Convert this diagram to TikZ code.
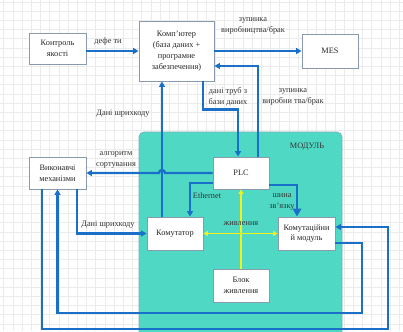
\documentclass[tikz,border=0pt]{standalone}
\usepackage{fontspec}
\setmainfont{Liberation Serif}
\usetikzlibrary{arrows.meta}
\definecolor{lnblue}{HTML}{1A70C8}
\definecolor{modteal}{HTML}{4FD9C5}
\definecolor{boxedge}{HTML}{8A9AAE}
\definecolor{pwr}{HTML}{F2F21A}
\tikzset{
  box/.style={draw=boxedge, line width=0.9pt, fill=white, align=center, inner sep=1pt,
    font=\fontsize{8.3}{10.8}\selectfont, text=black!85},
  lbl/.style={align=center, inner sep=0pt, font=\fontsize{8.3}{10.5}\selectfont, text=black!80},
  arr/.style={draw=lnblue, line width=2.4pt, -{Triangle[length=5.5pt,width=6pt]}},
  bigarr/.style={draw=lnblue, line width=2.4pt, -{Triangle[length=8pt,width=8.5pt]}},
  parr/.style={draw=pwr, line width=1.4pt, -{Triangle[length=4.5pt,width=5pt]}},
  pdarr/.style={draw=pwr, line width=1.4pt, {Triangle[length=4.5pt,width=5pt]}-{Triangle[length=4.5pt,width=5pt]}},
}
\begin{document}
\begin{tikzpicture}[x=1pt,y=-1pt]
\useasboundingbox (0,0) rectangle (403,331);
% grid background
\fill[white] (0,0) rectangle (403,331);
\foreach \i in {0,...,43} {\draw[black!8, line width=0.5pt] (3.6+9.2*\i,0) -- (3.6+9.2*\i,331);}
\foreach \j in {0,...,36} {\draw[black!8, line width=0.5pt] (0,1.8+9.2*\j) -- (403,1.8+9.2*\j);}
% module area
\fill[modteal, draw=boxedge!70!modteal, line width=0.6pt, rounded corners=5pt] (139,132) rectangle (342,345);
\node[lbl] (modlbl) at (307,147) {МОДУЛЬ};
% boxes
\node[box, minimum width=57pt, minimum height=31pt] (kontrol) at (57.5,48.5) {Контроль\\якості};
\node[box, minimum width=75pt, minimum height=60pt] (komp) at (176.5,51) {Комп'ютер\\(база даних +\\програмне\\забезпечення)};
\node[box, minimum width=56pt, minimum height=34pt] (mes) at (330,51) {MES};
\node[box, minimum width=57pt, minimum height=32pt] (vykon) at (57.5,173) {Виконавчі\\механізми};
\node[box, minimum width=56pt, minimum height=32pt] (plc) at (241,173) {PLC};
\node[box, minimum width=56pt, minimum height=33pt] (komut) at (175,233.5) {Комутатор};
\node[box, minimum width=57pt, minimum height=33pt] (kommod) at (306.5,233.5) {Комутаційни\\й модуль};
\node[box, minimum width=56pt, minimum height=33pt] (blok) at (241,285.5) {Блок\\живлення};
% connectors
\draw[arr] (kontrol.east |- komp) -- (komp.west);
\draw[arr] (komp.east) -- (mes.west);
\draw[arr] ([xshift=17pt]plc.north) |- ([yshift=-15pt]komp.east);
\draw[arr] ([xshift=26.5pt]komp.south) -- ++(0,28) -| ([xshift=-3pt]plc.north);
\draw[arr] (plc.west) -- (165,173) arc[start angle=0,end angle=180,radius=3pt] -- (vykon.east);
\draw[arr] ([xshift=-13pt]komut.north) -- ([xshift=-13pt]komut.north |- komp.south);
\draw[arr] ([yshift=-10pt]plc.west) -| ([xshift=15pt]komut.north);
\draw[bigarr] ([yshift=-12pt]plc.east) -| ([xshift=-9.5pt]kommod.north);
\draw[arr] ([xshift=19.5pt]vykon.south) |- (komut.west);
\coordinate (outerA) at (388,329);
\coordinate (innerA) at (362,313);
\draw[arr] ([xshift=-15.5pt]vykon.south) |- (outerA) |- ([yshift=6.5pt]kommod.east);
\draw[arr] ([yshift=-9.5pt]kommod.east) -| (innerA) -| (vykon.south);
\draw[parr] (blok.north) -- (plc.south);
\draw[pdarr] (komut.east) -- (kommod.west);
% labels
\node[lbl] (l1) at (108,42) {дефе ти};
\node[lbl] (l2) at (253,26) {зупинка\\виробництва/брак};
\node[lbl] (l3) at (228,97) {дані труб з\\бази даних};
\node[lbl] (l4) at (293,97) {зупинка\\виробни тва/брак};
\node[lbl] (l5) at (123,114) {Дані шрихкоду};
\node[lbl] (l6) at (116,160) {алгоритм\\сортування};
\node[lbl] (l7) at (207,196) {Ethernet};
\node[lbl] (l8) at (282,202) {шина\\зв'язку};
\node[lbl] (l9) at (241,224) {живлення};
\node[lbl] (l10) at (108,225) {Дані шрихкоду};
\end{tikzpicture}
\end{document}
